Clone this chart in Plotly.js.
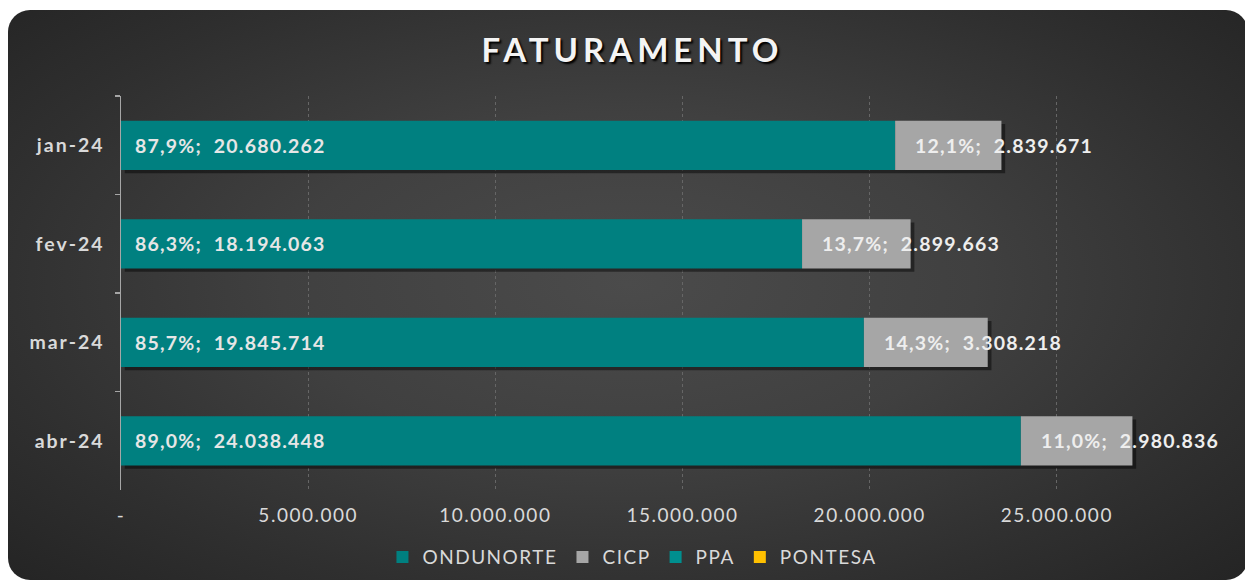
<!DOCTYPE html>
<html>
<head>
<meta charset="utf-8">
<script src="https://cdn.plot.ly/plotly-3.0.1.min.js"></script>
<style>
  html, body { margin: 0; padding: 0; background: #ffffff; width: 1245px; height: 581px; overflow: hidden; }
  #bg {
    position: absolute; left: 8px; top: 10px; width: 1240px; height: 570px;
    border-radius: 22px;
    background: radial-gradient(ellipse 70% 75% at 50% 48%, #4b4b4b 0%, #404040 40%, #2f2f2f 75%, #242424 100%);
  }
  #chart { position: absolute; left: 0; top: 0; width: 1245px; height: 581px; }
  .gtitle { letter-spacing: 5px; }
  .legendtext { letter-spacing: 1.5px; }
  .annotation-text { letter-spacing: 1.2px; }
  .xtick text { letter-spacing: 1.5px; }
  .ytick text { letter-spacing: 2px; }
</style>
</head>
<body>
<div id="bg"></div>
<div id="chart"></div>
<script>
const months = ['jan-24', 'fev-24', 'mar-24', 'abr-24'];
const ondunorte = [20680262, 18194063, 19845714, 24038448];
const cicp = [2839671, 2899663, 3308218, 2980836];
const ppa = [null, null, null, null];
const pontesa = [null, null, null, null];
const xTickVals = [0, 5000000, 10000000, 15000000, 20000000, 25000000];
const xTickText = ['-', '5.000.000', '10.000.000', '15.000.000', '20.000.000', '25.000.000'];

function fmtInt(n) {
  return String(Math.round(n)).replace(/\B(?=(\d{3})+(?!\d))/g, '.');
}
function fmtPct(v, t) {
  return (v / t * 100).toFixed(1).replace('.', ',') + '%';
}

const totals = months.map((m, i) => ondunorte[i] + cicp[i]);

const TEAL = '#008080';
const GRAY = '#a6a6a6';
const FONT = 'Lato, "Open Sans", sans-serif';

const barW = 0.5;
const traces = [
  {
    type: 'bar', orientation: 'h', y: months, x: totals, base: 100000,
    width: barW, offset: -barW / 2 + 0.035,
    marker: { color: 'rgba(0,0,0,0.45)' },
    showlegend: false, hoverinfo: 'skip'
  },
  {
    type: 'bar', orientation: 'h', name: 'ONDUNORTE', y: months, x: ondunorte, base: 0,
    width: barW, offset: -barW / 2,
    marker: { color: TEAL }
  },
  {
    type: 'bar', orientation: 'h', name: 'CICP', y: months, x: cicp, base: ondunorte,
    width: barW, offset: -barW / 2,
    marker: { color: GRAY }
  },
  {
    type: 'bar', orientation: 'h', name: 'PPA', y: months, x: ppa,
    width: barW, offset: -barW / 2,
    marker: { color: '#008f8f' }
  },
  {
    type: 'bar', orientation: 'h', name: 'PONTESA', y: months, x: pontesa,
    width: barW, offset: -barW / 2,
    marker: { color: '#ffc000' }
  }
];

const annotations = [];
months.forEach((m, i) => {
  annotations.push({
    x: 0, y: m, xref: 'x', yref: 'y', xanchor: 'left', yanchor: 'middle',
    xshift: 12, showarrow: false,
    text: fmtPct(ondunorte[i], totals[i]) + ';\u00a0\u00a0' + fmtInt(ondunorte[i]),
    font: { family: FONT, size: 19.5, color: '#e6e6e6', weight: 'bold' }
  });
  annotations.push({
    x: ondunorte[i], y: m, xref: 'x', yref: 'y', xanchor: 'left', yanchor: 'middle',
    xshift: 18, showarrow: false,
    text: fmtPct(cicp[i], totals[i]) + ';\u00a0\u00a0' + fmtInt(cicp[i]),
    font: { family: FONT, size: 19.5, color: '#eeeeee', weight: 'bold' }
  });
});

const layout = {
  width: 1245, height: 581,
  paper_bgcolor: 'rgba(0,0,0,0)', plot_bgcolor: 'rgba(0,0,0,0)',
  margin: { l: 121, r: 1, t: 96, b: 91 },
  barmode: 'overlay',
  hovermode: false,
  title: {
    text: 'FATURAMENTO',
    x: 0.508, xref: 'container', xanchor: 'center',
    y: 0.913, yref: 'container', yanchor: 'middle',
    font: { family: FONT, size: 33, color: '#f4f4f4', weight: 'bold', shadow: '2px 2px 2px #000' }
  },
  xaxis: {
    range: [0, 30000000],
    tickvals: xTickVals, ticktext: xTickText,
    showgrid: true, gridcolor: '#666666', griddash: 'dot', gridwidth: 1,
    zeroline: false, showline: false, ticks: '',
    ticklabelstandoff: 12,
    tickfont: { family: FONT, size: 19, color: '#d9d9d9' },
    fixedrange: true
  },
  yaxis: {
    type: 'category', categoryorder: 'array', categoryarray: months,
    autorange: 'reversed',
    showline: true, linecolor: '#a6a6a6', linewidth: 1.5,
    ticks: 'outside', tickson: 'boundaries', ticklen: 5, tickcolor: '#a6a6a6', tickwidth: 1.5,
    showgrid: false, zeroline: false,
    ticklabelstandoff: 11,
    tickfont: { family: FONT, size: 19.5, color: '#d9d9d9', weight: 'bold' },
    fixedrange: true
  },
  legend: {
    orientation: 'h',
    xref: 'container', x: 0.508, xanchor: 'center',
    yref: 'container', y: 0.041, yanchor: 'middle',
    font: { family: FONT, size: 19, color: '#d9d9d9' },
    traceorder: 'normal',
    bgcolor: 'rgba(0,0,0,0)',
    itemwidth: 30
  },
  annotations: annotations,
  showlegend: true
};

Plotly.newPlot('chart', traces, layout, { displayModeBar: false, staticPlot: true });
</script>
</body>
</html>
